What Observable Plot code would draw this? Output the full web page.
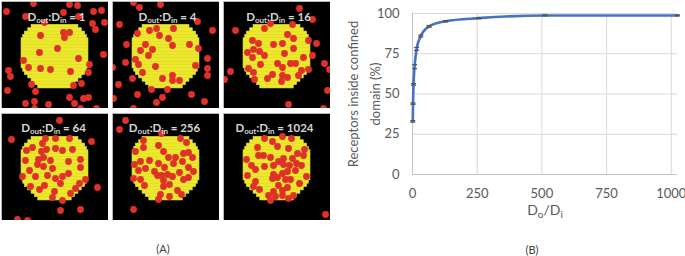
<!DOCTYPE html>
<html><head><meta charset="utf-8">
<script src="https://cdn.jsdelivr.net/npm/d3@7"></script>
<script src="https://cdn.jsdelivr.net/npm/@observablehq/plot@0.6"></script>
<style>
html,body{margin:0;padding:0;background:#fff;}
body{width:685px;height:256px;overflow:hidden;position:relative;font-family:Lato,"Open Sans",sans-serif;}
.abs{position:absolute;}
.cap{position:absolute;font-size:11px;color:#404040;transform:translate(-50%,-50%);font-family:Lato,sans-serif;}
</style></head><body>
<div id="root"></div>
<script>
// ---------- Panel (A) data ----------
const ratios = [1, 4, 16, 64, 256, 1024];
const labelX = [55, 55, 55, 52, 52, 51];
const labelY = [16, 16, 16, 15, 15, 15];
// pixelated disk: first row, centre column, half-widths per row (grid cells)
const diskFirstRow = 7;
const diskCentreCol = 16;
const diskHalfWidths = [7, 8, 9, 9.5, 10, 10, 10, 10, 10, 10, 10, 10, 10, 9.5, 9, 8, 7, 6, 5];
const gridCells = 32;
const panelSize = 107;
// receptor positions (panel pixel units)
const dots1 = [[32,2],[68,3],[76,4],[5,10],[24,15],[62,11],[92,10],[100,9],[77,15],[91,22],[103,21],[94,28],[43,21],[39,34],[62,31],[68,31],[63,36],[56,47],[38,51],[77,57],[102,53],[22,59],[27,66],[39,67],[49,68],[69,70],[88,63],[87,71],[7,69],[9,75],[30,83],[72,84],[80,82],[6,89],[34,90],[68,96],[82,97],[87,96],[24,102],[33,100],[47,103],[73,102],[79,107],[95,107],[33,107]];
const dots2 = [[21,1],[27,6],[48,3],[7,23],[25,32],[61,27],[85,20],[100,29],[37,29],[44,27],[47,34],[56,37],[60,44],[77,43],[86,47],[33,43],[28,49],[40,48],[36,54],[23,58],[26,63],[43,65],[30,71],[14,43],[13,61],[83,64],[95,57],[95,67],[95,74],[50,77],[60,74],[60,79],[67,79],[6,83],[20,77],[39,88],[55,88],[25,93],[79,93],[50,96],[1,97],[44,101],[92,100],[0,66],[21,107]];
const dots3 = [[76,7],[47,22],[12,29],[41,27],[69,23],[89,18],[64,33],[70,37],[29,39],[35,42],[50,43],[59,42],[85,39],[93,42],[24,51],[30,48],[36,50],[61,52],[70,47],[41,54],[29,56],[80,56],[89,54],[101,62],[37,63],[54,62],[59,66],[67,62],[72,62],[25,67],[30,71],[31,78],[7,70],[1,78],[78,69],[85,68],[49,73],[44,77],[59,74],[64,76],[75,74],[58,80],[104,89],[65,103],[106,68],[100,107]];
const dots4 = [[58,7],[10,26],[90,28],[44,25],[54,25],[68,25],[41,30],[31,34],[25,37],[40,38],[45,36],[54,35],[61,37],[71,36],[42,44],[37,46],[49,47],[24,47],[36,51],[42,53],[51,55],[67,48],[79,46],[79,54],[28,57],[34,63],[46,62],[54,65],[61,63],[67,60],[21,63],[84,66],[59,70],[43,72],[29,73],[38,76],[53,78],[51,84],[61,87],[69,80],[74,75],[78,70],[96,74],[59,97],[79,96],[16,106],[26,107]];
const dots5 = [[13,7],[7,16],[49,20],[31,27],[31,34],[68,25],[74,29],[46,32],[23,38],[51,38],[71,40],[76,39],[56,44],[63,44],[80,44],[28,48],[37,47],[61,50],[70,48],[22,51],[46,50],[52,54],[76,54],[33,55],[26,57],[42,58],[81,58],[67,59],[21,65],[28,66],[45,62],[49,62],[55,61],[60,63],[76,64],[71,66],[32,72],[51,67],[57,71],[51,73],[65,77],[69,81],[48,81],[57,83],[46,86],[21,96]];
const dots6 = [[41,25],[59,23],[68,25],[34,34],[49,28],[54,33],[65,35],[81,36],[40,42],[47,44],[74,40],[80,42],[23,46],[35,42],[55,48],[60,45],[69,45],[28,52],[32,56],[41,53],[50,52],[60,51],[66,52],[73,50],[78,52],[64,58],[59,60],[50,61],[72,57],[24,62],[54,64],[49,65],[62,66],[67,66],[76,70],[83,63],[32,68],[30,73],[36,76],[55,72],[64,74],[59,77],[50,78],[45,82],[52,83],[59,82],[70,82],[65,85],[47,87],[102,101]];
const allDots = [dots1, dots2, dots3, dots4, dots5, dots6];

// ---------- Panel (B) data ----------
const ratio = [1, 2, 4, 8, 16, 32, 64, 128, 256, 512, 1024];
const pctInside = [33, 44, 56, 67, 78, 86, 92, 95.2, 97.1, 98.8, 98.8];
const pctErr = [0.4, 0.4, 0.5, 1.2, 0.9, 0.6, 0.5, 0.4, 0.3, 0.3, 0.3];
const xTicks = [0, 250, 500, 750, 1000];
const yTicks = [0, 25, 50, 75, 100];

// layout (CSS placement only)
const panelLeft = [1, 112, 223, 1, 112, 223];
const panelTop = [1, 1, 1, 112.5, 112.5, 112.5];

const root = document.getElementById("root");
const CELL = panelSize / gridCells;
const diskRows = diskHalfWidths.map((h, i) => ({
  x1: (diskCentreCol - h) * CELL, x2: (diskCentreCol + h) * CELL,
  y1: (diskFirstRow + i) * CELL, y2: (diskFirstRow + i + 1) * CELL
}));

function setSubs(svg, raw, parts, subSize, shift) {
  svg.querySelectorAll("text").forEach(t => {
    if (t.textContent === raw) {
      while (t.firstChild) t.removeChild(t.firstChild);
      const ns = "http://www.w3.org/2000/svg";
      let cur = 0;
      parts.forEach(([s, sub]) => {
        const ts = document.createElementNS(ns, "tspan");
        ts.textContent = s;
        const want = sub ? shift : 0;
        if (want !== cur) ts.setAttribute("dy", want - cur);
        cur = want;
        if (sub) ts.setAttribute("font-size", subSize);
        t.appendChild(ts);
      });
    }
  });
}

ratios.forEach((r, k) => {
  const raw = `Dout:Din = ${r}`;
  const p = Plot.plot({
    width: panelSize, height: panelSize, margin: 0,
    x: {domain: [0, panelSize], axis: null},
    y: {domain: [0, panelSize], reverse: true, axis: null},
    style: {background: "#000", overflow: "hidden"},
    marks: [
      Plot.rect(diskRows, {x1: "x1", x2: "x2", y1: "y1", y2: "y2", fill: "#ece82e", stroke: "#ece82e", strokeWidth: 0.6}),
      Plot.dot(allDots[k], {x: d => d[0], y: d => d[1], r: 3.4, fill: "#e0302a", clip: true}),
      Plot.text([raw], {x: labelX[k], y: labelY[k], fill: "#d6d6d6", fontWeight: "bold", fontSize: 11.5, fontFamily: "Lato, sans-serif"}),
      Plot.frame({stroke: "#b8b8b8"})
    ]
  });
  setSubs(p, raw, [["D",0],["out",1],[":D",0],["in",1],[` = ${r}`,0]], 8, 2);
  p.classList.add("abs");
  p.style.left = panelLeft[k] + "px";
  p.style.top = panelTop[k] + "px";
  root.appendChild(p);
});

// ---------- right chart ----------
const data = ratio.map((x, i) => ({x, y: pctInside[i], e: pctErr[i]}));
const hline = {draw(ctx, size) { const w = Math.sqrt(size / Math.PI); ctx.moveTo(-w, 0); ctx.lineTo(w, 0); }};
const chart = Plot.plot({
  width: 345, height: 225,
  marginLeft: 72, marginRight: 8, marginTop: 13, marginBottom: 51,
  style: {fontFamily: "Lato, sans-serif", fontSize: "13px", color: "#595959", background: "transparent", overflow: "visible"},
  x: {domain: [0, 1024]},
  y: {domain: [0, 100]},
  marks: [
    Plot.gridX(xTicks, {stroke: "#d9d9d9", strokeOpacity: 1}),
    Plot.gridY(yTicks, {stroke: "#d9d9d9", strokeOpacity: 1}),
    Plot.ruleY([0], {stroke: "#c4c4c4"}),
    Plot.ruleX([0], {stroke: "#c4c4c4"}),
    Plot.axisX(xTicks, {tickSize: 0, tickPadding: 14, label: null, fill: "#595959", tickFormat: d => String(d)}),
    Plot.axisY(yTicks, {tickSize: 0, tickPadding: 13, label: null, fill: "#595959"}),
    Plot.ruleX(data, {x: "x", y1: d => d.y - d.e, y2: d => d.y + d.e, stroke: "#555", strokeWidth: 1}),
    Plot.line(data, {x: "x", y: "y", stroke: "#4472c4", strokeWidth: 2.6, curve: "monotone-x"}),
    Plot.dot(data, {x: "x", y: d => d.y - d.e, symbol: hline, r: 2.5, stroke: "#555", strokeWidth: 1.3}),
    Plot.dot(data, {x: "x", y: d => d.y + d.e, symbol: hline, r: 2.5, stroke: "#555", strokeWidth: 1.3}),
    Plot.text(["Receptors inside confined\ndomain (%)"], {frameAnchor: "left", dx: -51, rotate: -90, textAnchor: "middle", lineHeight: 1.7, fontSize: 13, fill: "#595959"}),
    Plot.text(["Do/Di"], {frameAnchor: "bottom", dy: 40, fontSize: 14, fill: "#595959"})
  ]
});
setSubs(chart, "Do/Di", [["D",0],["o",1],["/D",0],["i",1]], 10, 3);
chart.classList.add("abs");
chart.style.left = "340px";
chart.style.top = "0px";
root.appendChild(chart);

const capA = document.createElement("div");
capA.className = "cap"; capA.textContent = "(A)";
capA.style.left = "163px"; capA.style.top = "248px";
root.appendChild(capA);
const capB = document.createElement("div");
capB.className = "cap"; capB.textContent = "(B)";
capB.style.left = "532px"; capB.style.top = "249px";
root.appendChild(capB);
</script>
</body></html>
